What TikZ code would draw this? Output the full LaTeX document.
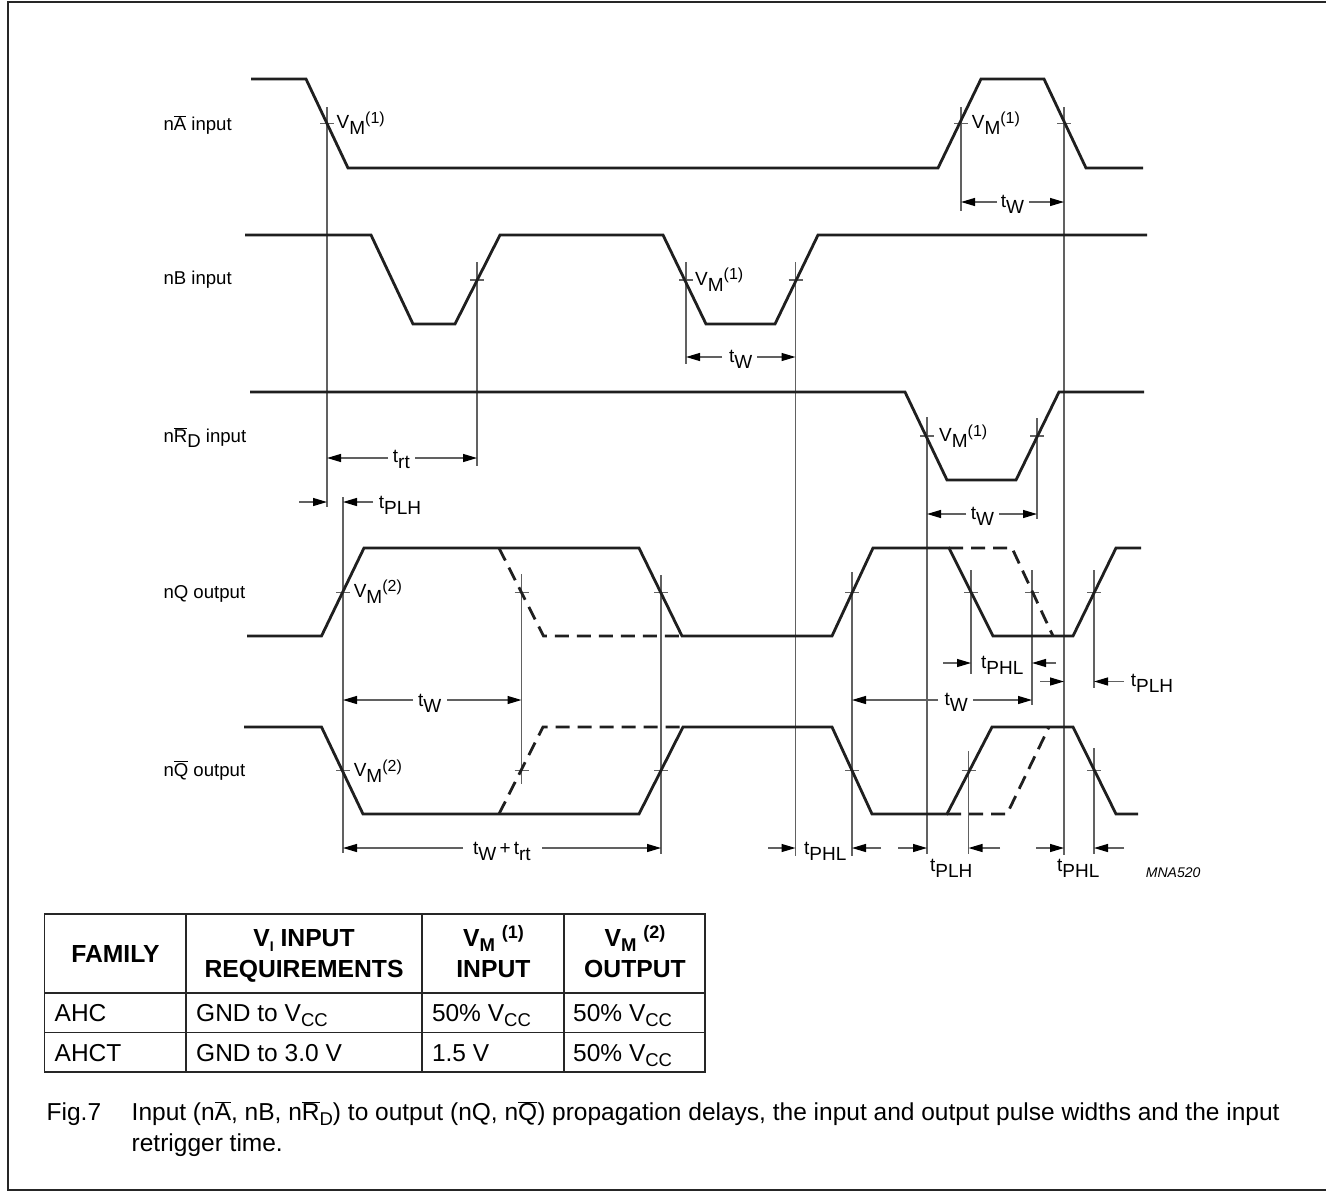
\documentclass[tikz,border=0pt]{standalone}
\usepackage{fontspec}
\setmainfont{Liberation Sans}
\usetikzlibrary{arrows.meta}
\newcommand{\lowr}[1]{\raisebox{-6pt}{#1}}
\newcommand{\hir}[1]{\raisebox{5.5pt}{\fontsize{16}{16}\selectfont #1}}
\newcommand{\ovl}[1]{$\overline{\hbox{#1}}$}
\newcommand{\tl}[1]{t\lowr{#1}}
\newcommand{\VM}[1]{V\lowr{M}\hir{(#1)}}
\newcommand{\csub}[1]{\raisebox{-5pt}{\fontsize{18.5}{18.5}\selectfont #1}}
\newcommand{\hsub}[1]{\raisebox{-4.5pt}{\fontsize{18.5}{18.5}\selectfont #1}}
\newcommand{\hsup}[1]{\raisebox{8pt}{\fontsize{18}{18}\selectfont #1}}
\tikzset{
  x=1pt,y=-1pt,
  wave/.style={line width=2.8pt,color=black!88,line join=miter},
  wavedash/.style={wave,dash pattern=on 14pt off 8pt},
  thin line/.style={line width=1.2pt,color=black!62},
  dim/.style={thin line,-{Triangle[length=14pt,width=8pt,color=black]}},
  lab/.style={inner sep=0pt,anchor=base west,font=\fontsize{19}{19}\selectfont},
  row/.style={inner sep=0pt,anchor=base west,font=\fontsize{18.6}{18.6}\selectfont},
  cell/.style={inner sep=0pt,anchor=base west,font=\fontsize{24.5}{24.5}\selectfont},
  head/.style={inner sep=0pt,anchor=base,align=center,font=\fontsize{24.7}{25}\selectfont\bfseries},
  frame/.style={line width=2pt,color=black!85},
  grid line/.style={line width=1.5pt,color=black!85},
  capt/.style={inner sep=0pt,anchor=base west,font=\fontsize{24.5}{24.5}\selectfont},
}
\begin{document}
\begin{tikzpicture}
\useasboundingbox (0,0) rectangle (1326,1191);
\fill[white] (0,0) rectangle (1326,1191);
\draw[frame] (1326,1.8) -- (7.5,1.8) -- (7.5,1189.8) -- (1326,1189.8);

% vertical guides
\foreach \x/\a/\b in {327/107/507,477/262/466,686/262/364,795.5/262/856,961/107/211,1064/107/855,
  927/417/854,1037/418/519,343/497/853,521.5/574/784,661/575/854,852/572/856,971/570/674,
  1032/570/705,1094/570/688,968.5/751/854,1094/748/854}
  \draw[thin line] (\x,\a) -- (\x,\b);

% ticks
\foreach \x/\y in {327/123.5,961/123.5,1064/123.5,477/280,686/280,795.5/280,927/436,1037/436,
  343/592.5,521.5/592.5,661/592.5,852/592.5,971/592.5,1032/592.5,1094/592.5,
  343/770.5,521.5/770.5,661/770.5,852/770.5,968.5/770.5,1094/770.5}
  \draw[thin line] (\x-7,\y) -- (\x+7,\y);

% waveforms
\draw[wave] (251,79) -- (306,79) -- (348,168) -- (938,168) -- (981,79) -- (1044,79) -- (1086,168) -- (1143,168);
\draw[wave] (245,235) -- (371,235) -- (413,324) -- (455,324) -- (500,235) -- (663,235) -- (706,324) -- (775,324) -- (818,235) -- (1147,235);
\draw[wave] (250,392) -- (905,392) -- (947,480) -- (1016,480) -- (1059,392) -- (1144,392);
\draw[wave] (247,636) -- (321.5,636) -- (364,548) -- (639,548) -- (682,636) -- (832,636) -- (873,548) -- (949,548) -- (993,636) -- (1073,636) -- (1116,548) -- (1141,548);
\draw[wave] (244,727) -- (321.5,727) -- (363,814) -- (639,814) -- (683,727) -- (832,727) -- (872,814) -- (947,814) -- (992,727) -- (1073,727) -- (1116,814) -- (1138,814);
\draw[wavedash] (499,548) -- (543.5,636) -- (682,636);
\draw[wavedash] (949,548) -- (1012,548) -- (1053,636);
\draw[wavedash] (499,814) -- (543,727) -- (682,727);
\draw[wavedash] (947,814) -- (1007,814) -- (1049,727);

% two-way dimensions
\foreach \y/\l/\r/\gl/\gr in {202/961/1064/997/1029,357/686/795.5/722/757,458/327/477/388/415,
  514/927/1037/966/999,700/343/521.5/413/447,700/852/1032/938/973,848/343/661/463/542}{
  \draw[dim] (\gl,\y) -- (\l,\y);
  \draw[dim] (\gr,\y) -- (\r,\y);
}
% one-way dimensions
\foreach \y/\f/\t in {502/299/327,502/373/343,663/943/971,663/1056/1032,681.5/1040/1064,681.5/1124/1094,
  848/768/795.5,848/881/852,848/898/927,848/1000/968.5,848/1036/1064,848/1124/1094}
  \draw[dim] (\f,\y) -- (\t,\y);

% row labels
\node[row] (rowA) at (163.3,130) {n\ovl{A} input};
\node[row] (rowB) at (163.3,284) {nB input};
\node[row] (rowR) at (163.3,442) {n\ovl{R}\raisebox{-5pt}{D} input};
\node[row] (rowQ) at (163.3,598) {nQ output};
\node[row] (rowN) at (163.3,776) {n\ovl{Q} output};

% VM labels
\node[lab] (vm1) at (336.5,128.5) {\VM{1}};
\node[lab] (vm2) at (971.7,128.5) {\VM{1}};
\node[lab] (vm3) at (695,285) {\VM{1}};
\node[lab] (vm4) at (939,441.7) {\VM{1}};
\node[lab] (vm5) at (353.6,597) {\VM{2}};
\node[lab] (vm6) at (353.6,776.7) {\VM{2}};

% time labels
\node[lab] (t1) at (1000.7,207.7) {\tl{W}};
\node[lab] (t2) at (729,362.5) {\tl{W}};
\node[lab] (t3) at (392.7,462.5) {\tl{rt}};
\node[lab] (t4) at (970.7,519) {\tl{W}};
\node[lab] (t5) at (378.6,508) {\tl{PLH}};
\node[lab] (t6) at (418,706) {\tl{W}};
\node[lab] (t7) at (944.3,705) {\tl{W}};
\node[lab] (t8) at (473,854) {\tl{W}\,+\,\tl{rt}};
\node[lab] (t9) at (981,668) {\tl{PHL}};
\node[lab] (t10) at (1130.7,686.7) {\tl{PLH}};
\node[lab] (t11) at (804,854) {\tl{PHL}};
\node[lab] (t12) at (930,871.7) {\tl{PLH}};
\node[lab] (t13) at (1057,871.7) {\tl{PHL}};
\node[inner sep=0pt,anchor=base west,font=\fontsize{14}{14}\selectfont\itshape] (code) at (1145.7,877.7) {MNA520};

% table
\draw[grid line] (44.5,914) rectangle (705,1072);
\draw[grid line] (44.5,993) -- (705,993);
\draw[grid line] (44.5,1032.5) -- (705,1032.5);
\foreach \x in {186,422,564} \draw[grid line] (\x,914) -- (\x,1072);

\node[head] (h1) at (115.5,962.7) {FAMILY};
\node[head] (h2a) at (304,946.7) {V\raisebox{-4.5pt}{\fontsize{14}{14}\selectfont I} INPUT};
\node[head] (h2b) at (304,977) {REQUIREMENTS};
\node[head] (h3a) at (493.4,946.7) {V\hsub{M} \hsup{(1)}};
\node[head] (h3b) at (493.4,977) {INPUT};
\node[head] (h4a) at (635,946.7) {V\hsub{M} \hsup{(2)}};
\node[head] (h4b) at (635,977) {OUTPUT};

\node[cell] (c11) at (54.5,1021.7) {AHC};
\node[cell] (c12) at (196,1021.7) {GND to V\csub{CC}};
\node[cell] (c13) at (431.8,1021.7) {50\% V\csub{CC}};
\node[cell] (c14) at (573,1021.7) {50\% V\csub{CC}};
\node[cell] (c21) at (54.5,1061) {AHCT};
\node[cell] (c22) at (196,1061) {GND to 3.0 V};
\node[cell] (c23) at (431.8,1061) {1.5 V};
\node[cell] (c24) at (573,1061) {50\% V\csub{CC}};

% caption
\node[capt] (figno) at (46.5,1120.5) {Fig.7};
\node[capt] (cap1) at (131.5,1120.5) {Input (n\ovl{A}, nB, n\ovl{R}\csub{D}) to output (nQ, n\ovl{Q}) propagation delays, the input and output pulse widths and the input};
\node[capt] (cap2) at (131.5,1151) {retrigger time.};
\end{tikzpicture}
\end{document}
